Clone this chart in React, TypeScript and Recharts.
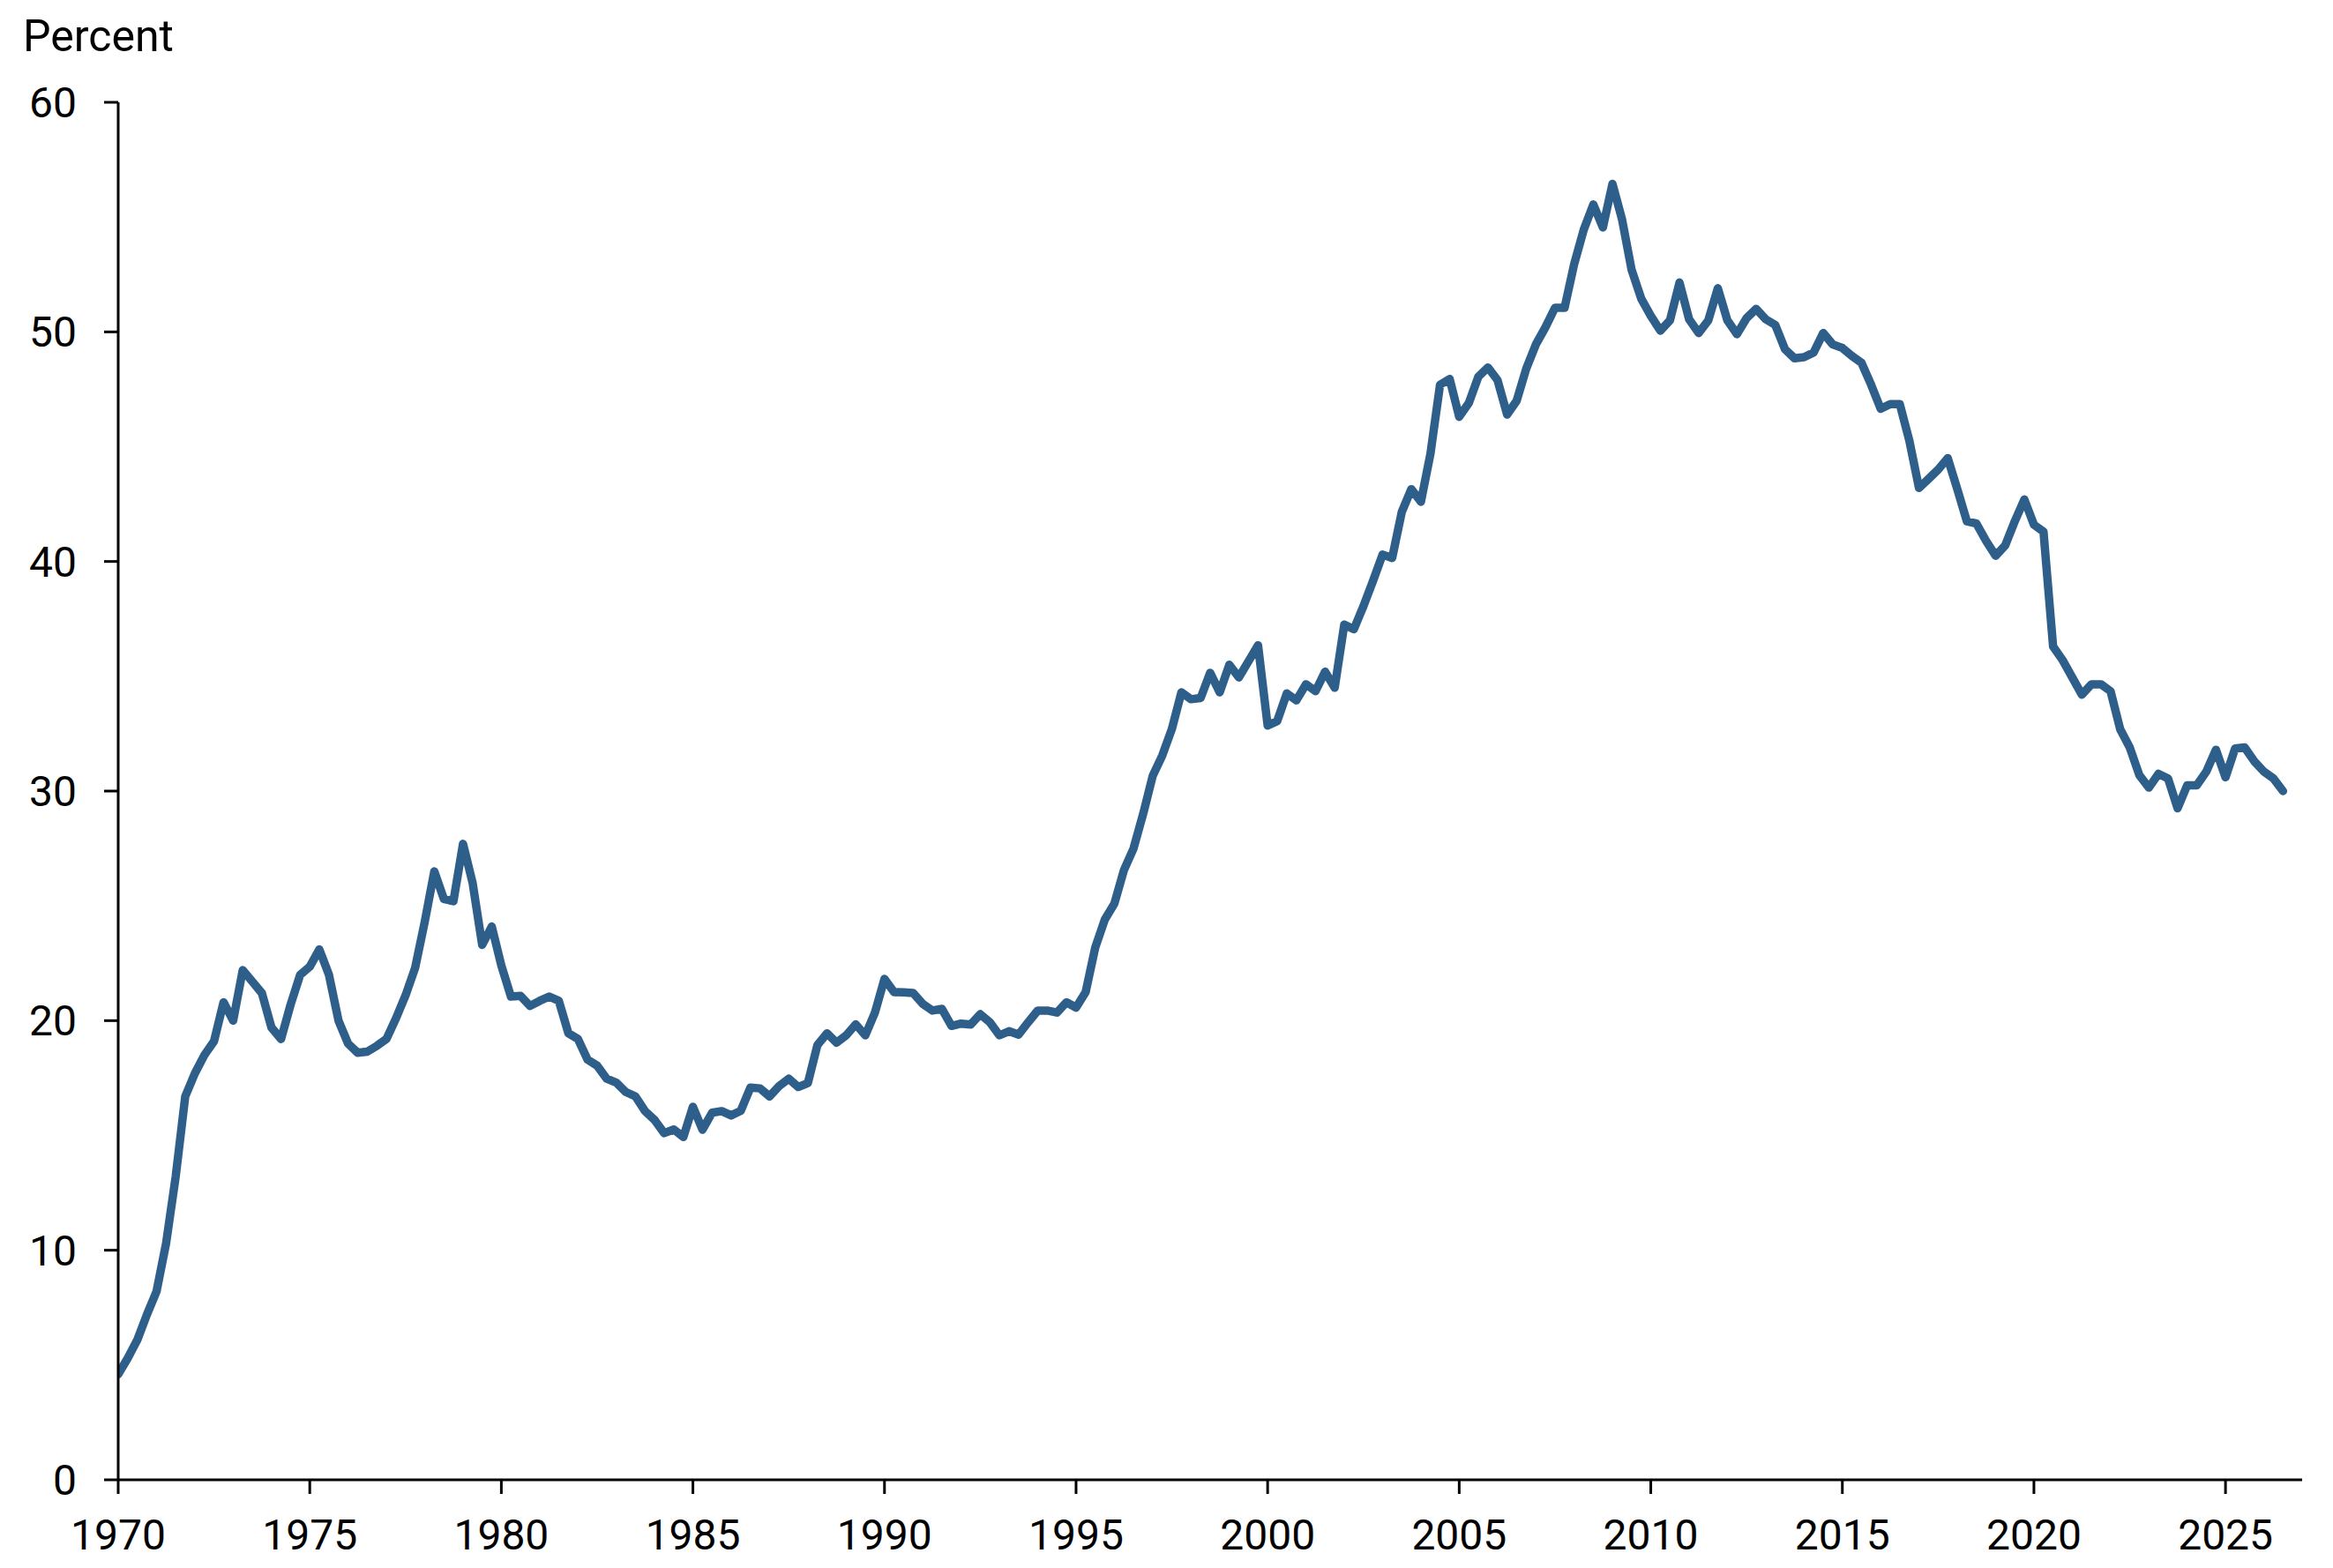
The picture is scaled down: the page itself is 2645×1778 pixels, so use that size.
import { Line, LineChart, XAxis, YAxis } from "recharts";

// Quarterly readings, one array per decade (first value = Q1 of the decade's first year)
const values1970s = [
  4.6, 5.3, 6.1, 7.2, 8.2, 10.3, 13.2, 16.7, 17.7, 18.5,
  19.1, 20.8, 20.0, 22.2, 21.7, 21.2, 19.7, 19.2, 20.7, 22.0,
  22.35, 23.1, 22.0, 20.0, 19.0, 18.6, 18.65, 18.9, 19.2, 20.1,
  21.1, 22.3, 24.3, 26.5, 25.3, 25.2, 27.7, 26.0, 23.3, 24.1,
];
const values1980s = [
  22.4, 21.05, 21.08, 20.64, 20.86, 21.05, 20.86, 19.45, 19.2, 18.3,
  18.04, 17.47, 17.3, 16.89, 16.7, 16.06, 15.67, 15.1, 15.26, 14.93,
  16.25, 15.25, 15.99, 16.06, 15.87, 16.08, 17.08, 17.05, 16.7, 17.15,
  17.47, 17.11, 17.28, 18.94, 19.45, 19.04, 19.36, 19.84, 19.36, 20.35,
];
const values1990s = [
  21.82, 21.24, 21.23, 21.2, 20.73, 20.44, 20.51, 19.77, 19.87, 19.83,
  20.28, 19.93, 19.36, 19.54, 19.39, 19.93, 20.44, 20.44, 20.35, 20.8,
  20.57, 21.24, 23.18, 24.4, 25.1, 26.56, 27.5, 29.0, 30.66, 31.55,
  32.7, 34.3, 34.0, 34.05, 35.15, 34.3, 35.5, 34.95, 35.65, 36.35,
];
const values2000s = [
  32.85, 33.05, 34.25, 33.95, 34.65, 34.35, 35.2, 34.5, 37.25, 37.05,
  38.05, 39.15, 40.3, 40.15, 42.15, 43.15, 42.6, 44.7, 47.7, 47.95,
  46.3, 46.9, 48.05, 48.45, 47.9, 46.4, 47.0, 48.4, 49.45, 50.2,
  51.05, 51.05, 52.95, 54.45, 55.55, 54.55, 56.45, 54.9, 52.7, 51.45,
];
const values2010s = [
  50.7, 50.05, 50.5, 52.15, 50.55, 49.95, 50.5, 51.9, 50.5, 49.9,
  50.6, 51.0, 50.55, 50.3, 49.25, 48.85, 48.9, 49.1, 49.95, 49.45,
  49.3, 48.95, 48.65, 47.7, 46.65, 46.85, 46.85, 45.25, 43.2, 43.6,
  44.0, 44.5, 43.15, 41.75, 41.65, 40.9, 40.25, 40.7, 41.75, 42.7,
];
const values2020s = [
  41.6, 41.3, 36.3, 35.7, 34.95, 34.2, 34.65, 34.65, 34.35, 32.7,
  31.9, 30.7, 30.15, 30.75, 30.55, 29.25, 30.25, 30.25, 30.85, 31.8,
  30.6, 31.85, 31.9, 31.3, 30.85, 30.55, 30.0,
];

const decadeStarts = [1970, 1980, 1990, 2000, 2010, 2020];
const decadeValues = [values1970s, values1980s, values1990s, values2000s, values2010s, values2020s];

const yearTicks = [1970, 1975, 1980, 1985, 1990, 1995, 2000, 2005, 2010, 2015, 2020, 2025];
const percentTicks = [0, 10, 20, 30, 40, 50, 60];

const rows = decadeValues.flatMap((vals, d) =>
  vals.map((value, q) => ({ date: decadeStarts[d] + q / 4, value }))
);

const tickFont = { fontSize: 48, fill: "#000", fontFamily: "Roboto" };
const axisStroke = { stroke: "#000", strokeWidth: 3 };

export default function App() {
  return (
    <div style={{ position: "absolute", left: 0, top: 0, width: 2645, height: 1778, background: "#fff" }}>
      <svg style={{ position: "absolute", left: 0, top: 0 }} width={400} height={100}>
        <text x={26} y={58} fontSize={50} fontFamily="Roboto" fill="#000">
          Percent
        </text>
      </svg>
      <LineChart
        width={2645}
        height={1778}
        data={rows}
        margin={{ top: 116, right: 35, bottom: 0, left: 0 }}
      >
        <XAxis
          dataKey="date"
          type="number"
          domain={[1970, 2027]}
          ticks={yearTicks}
          allowDataOverflow
          height={100}
          tick={tickFont}
          tickSize={16}
          tickMargin={29}
          axisLine={axisStroke}
          tickLine={axisStroke}
        />
        <YAxis
          type="number"
          domain={[0, 60]}
          ticks={percentTicks}
          width={134}
          tick={tickFont}
          tickSize={16}
          tickMargin={31}
          axisLine={axisStroke}
          tickLine={axisStroke}
        />
        <Line
          type="linear"
          dataKey="value"
          stroke="#2E5F8B"
          strokeWidth={9.5}
          strokeLinejoin="round"
          strokeLinecap="round"
          dot={false}
          activeDot={false}
          isAnimationActive={false}
        />
      </LineChart>
    </div>
  );
}
